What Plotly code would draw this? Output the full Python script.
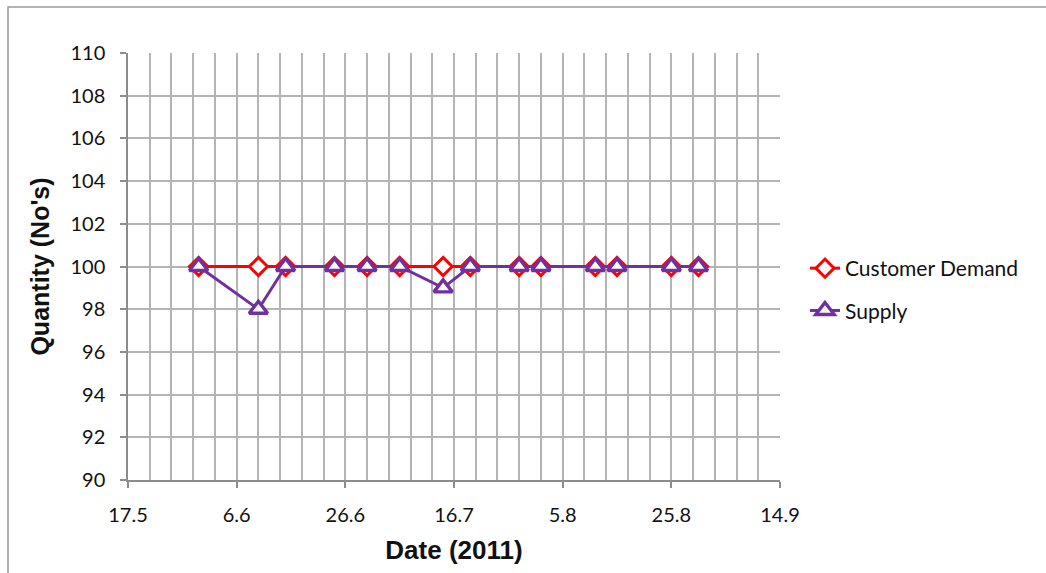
import plotly.graph_objects as go

# Delivery dates (2011) and quantities
dates = ["2011-05-30", "2011-06-10", "2011-06-15", "2011-06-24", "2011-06-30",
         "2011-07-06", "2011-07-14", "2011-07-19", "2011-07-28", "2011-08-01",
         "2011-08-11", "2011-08-15", "2011-08-25", "2011-08-30"]
customer_demand = [100, 100, 100, 100, 100, 100, 100, 100, 100, 100, 100, 100, 100, 100]
supply = [100, 98, 100, 100, 100, 100, 99, 100, 100, 100, 100, 100, 100, 100]

DAY_MS = 86400000
W, H = 1046, 573
L, R, T, B = 128, 266, 53, 93

fig = go.Figure()
fig.add_trace(go.Scatter(
    x=dates, y=customer_demand, name="Customer Demand", mode="lines+markers",
    line=dict(color="#ff0000", width=3),
    marker=dict(symbol="diamond", size=14, color="white",
                line=dict(color="#ff0000", width=3)),
    legendgroup="a",
))
fig.add_trace(go.Scatter(
    x=dates, y=supply, name="Supply", mode="lines+markers",
    line=dict(color="#7030a0", width=3),
    marker=dict(symbol="triangle-up", size=16, color="white",
                line=dict(color="#7030a0", width=3.4)),
    legendgroup="b",
))

grid = "#b4b4b4"
axis_col = "#8c8c8c"
tick_font = dict(family="Lato", size=20, color="#111111")

fig.update_xaxes(
    type="date", range=["2011-05-17", "2011-09-14"],
    tick0="2011-05-17", dtick=20 * DAY_MS, tickformat="%-d.%-m",
    ticks="outside", ticklen=6, tickcolor=axis_col, tickwidth=1.5,
    showgrid=True, gridcolor=grid, gridwidth=1.5,
    minor=dict(dtick=4 * DAY_MS, tick0="2011-05-17", showgrid=True,
               gridcolor=grid, gridwidth=1.5),
    showline=True, linecolor=axis_col, linewidth=1.5,
    tickfont=tick_font, ticklabelstandoff=10,
    title=dict(text="<b>Date (2011)</b>", standoff=16,
               font=dict(family="Liberation Sans", size=26, color="#111111")),
    zeroline=False,
)
fig.update_yaxes(
    range=[90, 110], dtick=2,
    ticks="outside", ticklen=6, tickcolor=axis_col, tickwidth=1.5,
    showgrid=True, gridcolor=grid, gridwidth=1.5,
    showline=True, linecolor=axis_col, linewidth=1.5,
    tickfont=tick_font, ticklabelstandoff=11,
    title=dict(text="<b>Quantity (No's)</b>", standoff=14,
               font=dict(family="Liberation Sans", size=25, color="#111111")),
    zeroline=False,
)

pw, ph = W - L - R, H - T - B
# Chart frame (top and left edges visible)
fig.add_shape(type="rect", xref="paper", yref="paper",
              x0=(8 - L) / pw, x1=(W + 20 - L) / pw,
              y0=(H - B - (H + 20)) / ph, y1=(H - B - 7) / ph,
              line=dict(color="#9a9a9a", width=1.5), fillcolor="rgba(0,0,0,0)",
              layer="below")

fig.update_layout(
    width=W, height=H,
    margin=dict(l=L, r=R, t=T, b=B),
    paper_bgcolor="white", plot_bgcolor="white",
    font=dict(family="Lato", color="#111111"),
    legend=dict(x=(805 - L) / pw, y=(H - B - 248) / ph, xanchor="left", yanchor="top",
                font=dict(family="Lato", size=21, color="#111111"),
                tracegroupgap=12, bgcolor="rgba(0,0,0,0)"),
    showlegend=True,
)

fig.write_html("out.html")
